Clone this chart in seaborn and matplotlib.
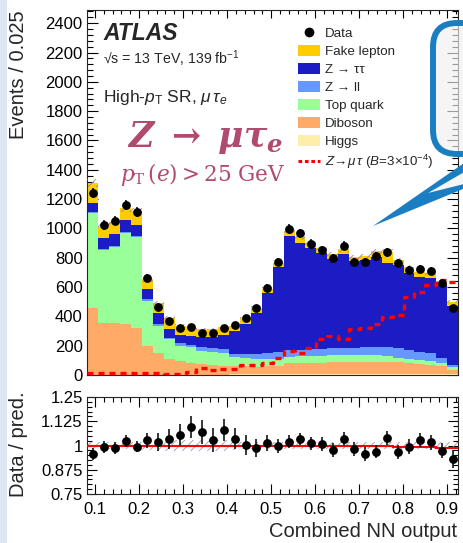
import numpy as np
import pandas as pd
import matplotlib
matplotlib.use('Agg')
import matplotlib.pyplot as plt
import seaborn as sns
from matplotlib.patches import Patch, FancyBboxPatch, Polygon, Rectangle
from matplotlib.lines import Line2D
from matplotlib.ticker import MultipleLocator, FixedLocator, FuncFormatter

# values, one entry per NN-output bin (34 bins)
processes = ['Fake lepton', 'Z → ττ', 'Z → ll', 'Top quark', 'Diboson', 'Higgs']
colors = ['#ffcc00', '#1c1cc4', '#6699ff', '#99ff99', '#ffaa66', '#ffeeaa']

fake = [137, 75, 86, 79, 98, 66, 69, 77, 66, 61, 53, 53, 59, 33, 43, 34, 29,
        28, 34, 41, 34, 34, 36, 32, 25, 27, 38, 80, 34, 37, 34, 30, 16, 30]
ztautau = [62, 76, 76, 83, 71, 69, 74, 59, 55, 61, 73, 79, 92, 160, 206, 282, 409,
           583, 780, 730, 692, 652, 607, 641, 591, 596, 615, 571, 568, 525, 510, 515, 495, 400]
zll = [6, 8, 8, 8, 8, 10, 10, 12, 15, 18, 22, 24, 25, 22, 28, 34, 40,
       45, 45, 44, 46, 46, 47, 49, 51, 53, 57, 57, 64, 60, 58, 53, 36, 18]
top = [645, 500, 523, 616, 625, 307, 184, 134, 105, 105, 93, 90, 89, 60, 56, 52, 50,
       50, 45, 46, 46, 47, 49, 48, 48, 48, 48, 46, 32, 28, 27, 27, 24, 18]
diboson = [456, 349, 349, 347, 315, 197, 149, 106, 92, 81, 70, 65, 61, 56, 54, 53, 54,
           55, 75, 77, 79, 80, 80, 81, 81, 81, 81, 81, 80, 78, 69, 63, 53, 30]
higgs = [3, 3, 3, 3, 3, 3, 3, 3, 3, 3, 3, 3, 3, 4, 4, 4, 4,
         5, 5, 5, 5, 5, 6, 6, 6, 6, 6, 6, 6, 6, 6, 5, 5, 4]
signal = [12, 12, 12, 12, 15, 15, 12, 8, 10, 20, 45, 32, 39, 39, 68, 68, 84,
          118, 166, 152, 182, 243, 268, 243, 314, 322, 345, 397, 412, 534, 568, 611, 648, 635]
data = [1243, 1022, 1052, 1163, 1111, 663, 466, 370, 322, 329, 284, 284, 322, 343, 386, 459, 595,
        773, 995, 966, 895, 852, 800, 882, 773, 773, 809, 836, 763, 716, 725, 711, 629, 459]
data_err = [36, 32, 32, 34, 33, 26, 22, 19, 18, 18, 17, 17, 18, 19, 20, 21, 24,
            28, 32, 31, 30, 29, 28, 30, 28, 28, 28, 29, 28, 27, 27, 27, 25, 21]
ratio = [0.955, 0.991, 0.986, 1.023, 0.994, 1.028, 1.018, 1.034, 1.054, 1.094, 1.070, 1.028,
         1.081, 1.034, 1.001, 0.989, 1.011, 0.999, 1.020, 1.034, 1.011, 1.008, 0.977, 1.034,
         0.982, 0.956, 0.968, 1.039, 0.968, 0.994, 1.030, 1.016, 0.973, 0.929]
ratio_err = [0.030, 0.030, 0.030, 0.030, 0.030, 0.039, 0.046, 0.052, 0.056, 0.056, 0.060, 0.060,
             0.056, 0.054, 0.051, 0.047, 0.041, 0.036, 0.032, 0.032, 0.033, 0.034, 0.035, 0.034,
             0.036, 0.036, 0.035, 0.035, 0.036, 0.037, 0.037, 0.038, 0.040, 0.047]
ratio_fit = [1.0, 1.0, 1.0, 1.0, 1.0, 1.0, 1.0, 1.0, 1.0, 1.0, 1.0, 1.0, 1.0, 1.0, 1.0, 1.0, 1.0,
             1.0, 1.0, 1.0, 1.0, 1.0, 1.0, 1.0, 1.0, 1.0, 0.998, 0.996, 0.994, 0.992, 0.99, 0.99,
             0.988, 0.985]
band = [0.02, 0.02, 0.02, 0.02, 0.02, 0.025, 0.03, 0.03, 0.03, 0.03, 0.03, 0.03, 0.03, 0.025,
        0.02, 0.02, 0.02, 0.02, 0.02, 0.02, 0.02, 0.02, 0.02, 0.02, 0.02, 0.02, 0.02, 0.02,
        0.02, 0.02, 0.02, 0.02, 0.02, 0.02]

nn_min, nn_max = 0.083, 0.924
edges = np.linspace(nn_min, nn_max, len(data) + 1)
centers = 0.5 * (edges[:-1] + edges[1:])
bin_list = list(edges)

sns.set_style('ticks')
plt.rcParams['font.family'] = ['Liberation Sans', 'DejaVu Sans']
plt.rcParams['mathtext.fontset'] = 'custom'
plt.rcParams['mathtext.rm'] = 'Liberation Sans'
plt.rcParams['mathtext.it'] = 'Liberation Sans:italic'
plt.rcParams['mathtext.bf'] = 'Liberation Sans:bold'
plt.rcParams['hatch.linewidth'] = 0.6
plt.rcParams['axes.linewidth'] = 0.8
for a in ('xtick', 'ytick'):
    plt.rcParams[a + '.direction'] = 'in'
    plt.rcParams[a + '.major.width'] = 0.8
    plt.rcParams[a + '.minor.width'] = 0.8
    plt.rcParams[a + '.color'] = 'black'
plt.rcParams['xtick.top'] = True
plt.rcParams['ytick.right'] = True

W, H = 464, 543
fig = plt.figure(figsize=(W / 100, H / 100), dpi=100, facecolor='white')
left, right = 87.5, 458
ax = fig.add_axes([left / W, (H - 375) / H, (right - left) / W, 365 / H])
rax = fig.add_axes([left / W, (H - 494) / H, (right - left) / W, 97 / H])

# stacked backgrounds
frames = [pd.DataFrame({'nn': centers, 'events': vals, 'process': name})
          for name, vals in zip(processes, [fake, ztautau, zll, top, diboson, higgs])]
df = pd.concat(frames, ignore_index=True)
sns.histplot(data=df, x='nn', weights='events', hue='process', hue_order=processes,
             palette=dict(zip(processes, colors)), multiple='stack', bins=bin_list,
             element='step', fill=True, alpha=1, linewidth=0, legend=False, ax=ax)

total = np.array(fake) + np.array(ztautau) + np.array(zll) + np.array(top) + \
    np.array(diboson) + np.array(higgs)
ax.stairs(total * (1 + np.array(band)), edges, baseline=total * (1 - np.array(band)),
          fill=True, facecolor='none', edgecolor='#8a8aa8', hatch='////', linewidth=0, zorder=3)

sns.histplot(x=centers, weights=signal, bins=bin_list, element='step', fill=False,
             color='#ff0000', linewidth=2.4, linestyle=(0, (1.8, 1.5)), ax=ax, zorder=4)

ax.errorbar(centers, data, yerr=data_err, fmt='none', ecolor='black', elinewidth=1.1, zorder=5)
sns.scatterplot(x=centers, y=data, color='black', s=40, linewidth=0, ax=ax, zorder=6)

ax.set_xlim(nn_min, nn_max)
ax.set_ylim(0, 2490)
ax.set_xlabel('')
ax.set_ylabel('')
ax.xaxis.set_major_locator(MultipleLocator(0.1))
ax.xaxis.set_minor_locator(MultipleLocator(0.02))
ax.yaxis.set_major_locator(MultipleLocator(200))
ax.yaxis.set_minor_locator(MultipleLocator(40))
ax.tick_params(axis='x', which='major', length=6, labelbottom=False)
ax.tick_params(axis='x', which='minor', length=3)
ax.tick_params(axis='y', which='major', length=8, labelsize=12, pad=3.5)
ax.tick_params(axis='y', which='minor', length=4)

# ratio panel
rax.stairs(1 + np.array(band), edges, baseline=1 - np.array(band), fill=True,
           facecolor='none', edgecolor='#9a9ab8', hatch='////', linewidth=0, zorder=2)
rax.stairs(ratio_fit, edges, baseline=None, color='#ff0000', linewidth=1.5, zorder=3)
rax.errorbar(centers, ratio, yerr=ratio_err, fmt='none', ecolor='black', elinewidth=1.1, zorder=4)
sns.scatterplot(x=centers, y=ratio, color='black', s=40, linewidth=0, ax=rax, zorder=5)
rax.set_xlim(nn_min, nn_max)
rax.set_ylim(0.75, 1.25)
rax.xaxis.set_major_locator(MultipleLocator(0.1))
rax.xaxis.set_minor_locator(MultipleLocator(0.02))
rax.yaxis.set_major_locator(FixedLocator([0.75, 0.875, 1.0, 1.125, 1.25]))
rax.yaxis.set_minor_locator(MultipleLocator(0.025))
rax.yaxis.set_major_formatter(FuncFormatter(lambda v, p: f'{v:g}'))
rax.xaxis.set_major_formatter(FuncFormatter(lambda v, p: f'{v:g}'))
rax.tick_params(axis='x', which='major', length=7, labelsize=12, pad=6)
rax.tick_params(axis='x', which='minor', length=3.5)
rax.tick_params(axis='y', which='major', length=7, labelsize=12, pad=3.5)
rax.tick_params(axis='y', which='minor', length=3.5)
rax.set_xlabel('')
rax.set_ylabel('')

# overlay in pixel coordinates for labels and slide decorations
ov = fig.add_axes([0, 0, 1, 1], zorder=10)
ov.set_xlim(0, W)
ov.set_ylim(H, 0)
ov.axis('off')
ov.patch.set_visible(False)
ov.add_patch(Rectangle((0, 0), 7.5, H, facecolor='#dde7f3', edgecolor='none'))

ov.text(19, 10, 'Events / 0.025', rotation=90, ha='center', va='top', fontsize=14.5)
ov.text(19, 444, 'Data / pred.', rotation=90, ha='center', va='center', fontsize=14.5)
ov.text(457, 537, 'Combined NN output', ha='right', va='baseline', fontsize=14.5)

ov.text(103, 40, 'ATLAS', fontsize=16.5, fontweight='bold', fontstyle='italic', va='baseline')
ov.text(103, 64, '√s = 13 TeV, 139 fb$^{-1}$', fontsize=10.2, va='baseline')
ov.text(103, 102, r'High-$p_{\mathrm{T}}$ SR, $\mu\,\tau_e$', fontsize=12.5, va='baseline')

magenta = '#b04a6e'
ov.text(127, 147, r'$\mathbfit{Z}\ \mathbf{\rightarrow}\ \mathbfit{\mu\tau_e}$', fontsize=25,
        color=magenta, va='baseline', math_fontfamily='dejavuserif')
ov.text(120, 181, r'$p_{\mathrm{T}}\,(e) > 25\ \mathrm{GeV}$', fontsize=15.5,
        color=magenta, va='baseline', math_fontfamily='dejavuserif')

handles = [Line2D([], [], marker='o', color='black', linestyle='none', markersize=6)]
handles += [Patch(facecolor=c, edgecolor='none') for c in colors]
handles += [Line2D([], [], color='#ff0000', linewidth=2.2, linestyle=(0, (1.2, 0.9)))]
labels = ['Data'] + processes + [r'$Z\!\rightarrow\!\mu\,\tau$ ($B$=3$\times$10$^{-4}$)']
ov.legend(handles, labels, loc='upper left', bbox_to_anchor=(298, 27),
          bbox_transform=ov.transData, frameon=False, fontsize=9.6, borderpad=0,
          borderaxespad=0, handlelength=1.65, handleheight=0.9, handletextpad=0.35,
          labelspacing=0.36)

# speech bubble
blue = '#1a7fc2'
ov.add_patch(FancyBboxPatch((433, 23), 80, 131, boxstyle='round,pad=0,rounding_size=24',
                            facecolor=(0.94, 0.94, 0.94, 0.65), edgecolor=blue, linewidth=4.3))
ov.add_patch(Polygon([(373, 226), (480, 152), (480, 182)], closed=True,
                     facecolor=blue, edgecolor='none'))
ov.add_patch(Polygon([(428, 193), (480, 163), (480, 180)], closed=True,
                     facecolor=(0.96, 0.96, 0.96), edgecolor='none'))

fig.savefig('out.png', dpi=100, facecolor='white')
